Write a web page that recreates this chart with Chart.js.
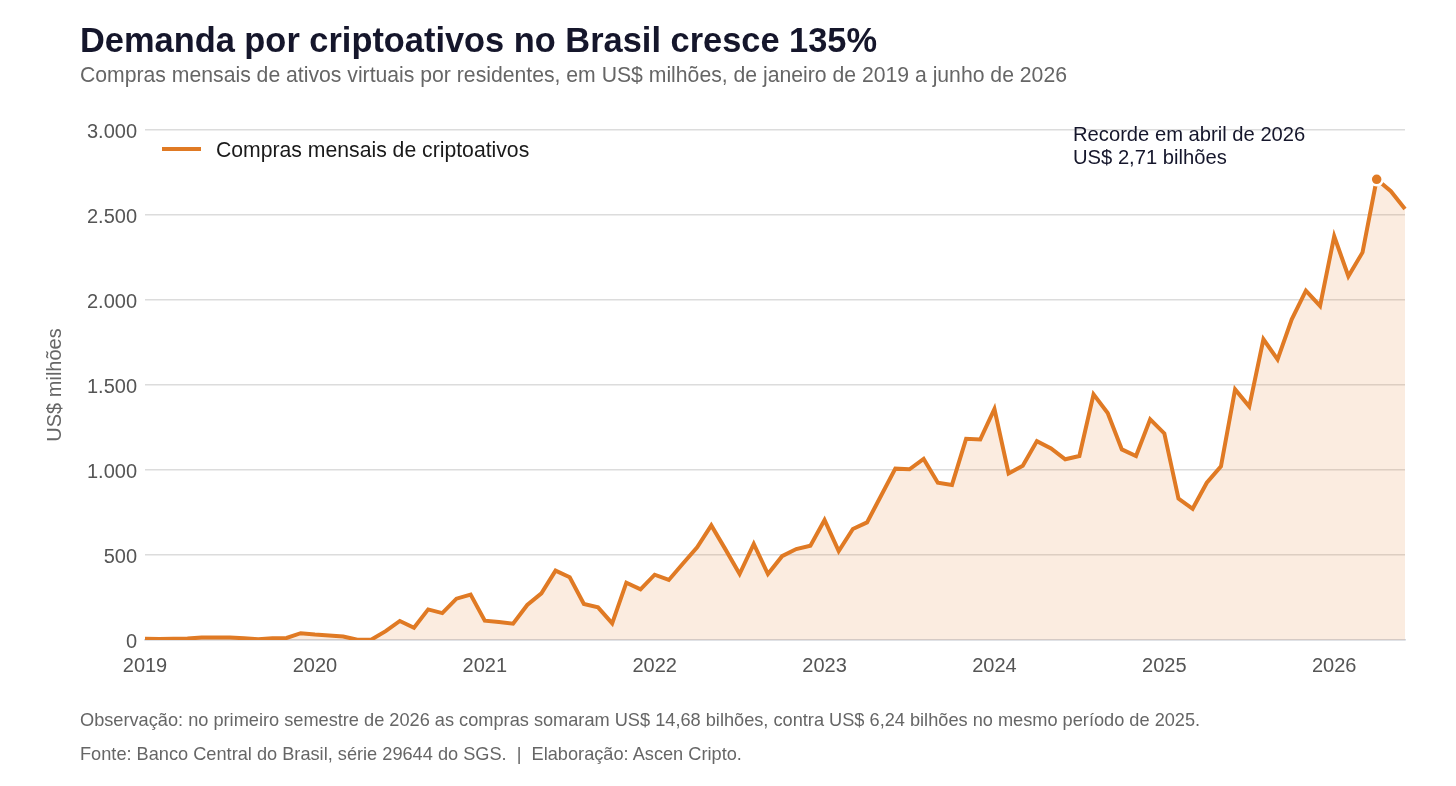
<!DOCTYPE html>
<html lang="pt-BR">
<head>
<meta charset="utf-8">
<script src="https://cdn.jsdelivr.net/npm/chart.js@4.4.1/dist/chart.umd.min.js"></script>
<style>
html,body{margin:0;padding:0;background:#fff;width:1456px;height:786px;overflow:hidden;font-family:"Liberation Sans",Arial,sans-serif;}
#wrap{position:relative;width:1456px;height:786px;}
#c{position:absolute;left:0;top:0;}
.t{position:absolute;left:80px;white-space:nowrap;line-height:1;}
#title{top:23px;font-size:34.4px;font-weight:bold;color:#15162b;}
#sub{top:64px;font-size:21.2px;color:#666;}
#n1{top:711px;font-size:18.2px;color:#666;}
#n2{top:745px;font-size:18.2px;color:#666;}
</style>
</head>
<body>
<div id="wrap">
<canvas id="c" width="1456" height="786"></canvas>
<div class="t" id="title">Demanda por criptoativos no Brasil cresce 135%</div>
<div class="t" id="sub">Compras mensais de ativos virtuais por residentes, em US$ milhões, de janeiro de 2019 a junho de 2026</div>
<div class="t" id="n1">Observação: no primeiro semestre de 2026 as compras somaram US$ 14,68 bilhões, contra US$ 6,24 bilhões no mesmo período de 2025.</div>
<div class="t" id="n2">Fonte: Banco Central do Brasil, série 29644 do SGS.&nbsp; |&nbsp; Elaboração: Ascen Cripto.</div>
</div>
<script>
// ---- data ----
const years = [2019, 2020, 2021, 2022, 2023, 2024, 2025, 2026];
const monthsInLastYear = 6;
const purchases2019 = [8, 6, 7, 9, 14, 15, 15, 10, 5, 10, 12, 40];
const purchases2020 = [32, 26, 20, 2, 3, 52, 112, 72, 180, 158, 243, 267];
const purchases2021 = [114, 106, 96, 206, 274, 408, 369, 212, 192, 98, 337, 298];
const purchases2022 = [384, 353, 450, 545, 674, 533, 388, 565, 388, 493, 535, 555];
const purchases2023 = [706, 523, 653, 692, 850, 1008, 1004, 1065, 925, 912, 1184, 1180];
const purchases2024 = [1359, 980, 1025, 1170, 1127, 1063, 1082, 1445, 1335, 1121, 1082, 1298];
const purchases2025 = [1215, 832, 772, 925, 1022, 1474, 1373, 1769, 1651, 1886, 2055, 1965];
const purchases2026 = [2375, 2140, 2280, 2710, 2640, 2535];
const yTicks = [0, 500, 1000, 1500, 2000, 2500, 3000];
const seriesLabel = 'Compras mensais de criptoativos';
const recordLines = ['Recorde em abril de 2026', 'US$ 2,71 bilhões'];

const values = [].concat(purchases2019, purchases2020, purchases2021, purchases2022,
  purchases2023, purchases2024, purchases2025, purchases2026);
const labels = [];
years.forEach((y, yi) => {
  const n = yi === years.length - 1 ? monthsInLastYear : 12;
  for (let m = 1; m <= n; m++) labels.push(y + '-' + String(m).padStart(2, '0'));
});
const recordIndex = values.indexOf(Math.max(...values));

const FONT = '"Liberation Sans", Arial, sans-serif';
const ORANGE = '#e07a24';

const overlay = {
  id: 'overlay',
  afterDraw(chart) {
    const ctx = chart.ctx;
    const ca = chart.chartArea;
    ctx.save();
    // legend
    ctx.strokeStyle = ORANGE;
    ctx.lineWidth = 4;
    ctx.beginPath();
    ctx.moveTo(ca.left + 17, 149);
    ctx.lineTo(ca.left + 56, 149);
    ctx.stroke();
    ctx.fillStyle = '#1a1a1a';
    ctx.font = '21.2px ' + FONT;
    ctx.textBaseline = 'middle';
    ctx.textAlign = 'left';
    ctx.fillText(chart.data.datasets[0].label, ca.left + 71, 151);
    // annotation
    ctx.fillStyle = '#15162b';
    ctx.font = '20.2px ' + FONT;
    ctx.fillText(recordLines[0], 1073, 135);
    ctx.fillText(recordLines[1], 1073, 158);
    ctx.restore();
  }
};

new Chart(document.getElementById('c'), {
  type: 'line',
  data: {
    labels: labels,
    datasets: [{
      label: seriesLabel,
      data: values,
      borderColor: ORANGE,
      borderWidth: 4,
      backgroundColor: 'rgba(224,122,36,0.14)',
      fill: 'origin',
      tension: 0,
      pointRadius: c => c.dataIndex === recordIndex ? 6 : 0,
      pointHoverRadius: 0,
      pointBackgroundColor: ORANGE,
      pointBorderColor: '#ffffff',
      pointBorderWidth: 2.5
    }]
  },
  options: {
    responsive: false,
    animation: false,
    layout: { padding: { left: 40, right: 51, top: 130, bottom: 0 } },
    plugins: { legend: { display: false }, tooltip: { enabled: false } },
    scales: {
      x: {
        type: 'category',
        offset: false,
        grid: { display: false, drawTicks: false },
        border: { display: true, color: '#d3d8e0', width: 1.5 },
        ticks: {
          autoSkip: false, maxRotation: 0, minRotation: 0, padding: 14,
          color: '#555', font: { family: FONT, size: 20 },
          callback: function (v, i) { const l = labels[i]; return l.endsWith('-01') ? l.slice(0, 4) : ''; }
        },
        afterFit: s => { s.height = 146; }
      },
      y: {
        min: 0, max: 3000,
        afterBuildTicks: s => { s.ticks = yTicks.map(v => ({ value: v })); },
        grid: { color: '#dcdcdc', lineWidth: 1.5, drawTicks: false },
        border: { display: false },
        ticks: {
          padding: 8, labelOffset: 2.5, color: '#555', font: { family: FONT, size: 20 },
          callback: v => v.toLocaleString('pt-BR')
        },
        title: { display: true, text: 'US$ milhões', color: '#666', font: { family: FONT, size: 20 }, padding: { top: 3, bottom: 4 } },
        afterFit: s => { s.width = 105; }
      }
    }
  },
  plugins: [overlay]
});
</script>
</body>
</html>
